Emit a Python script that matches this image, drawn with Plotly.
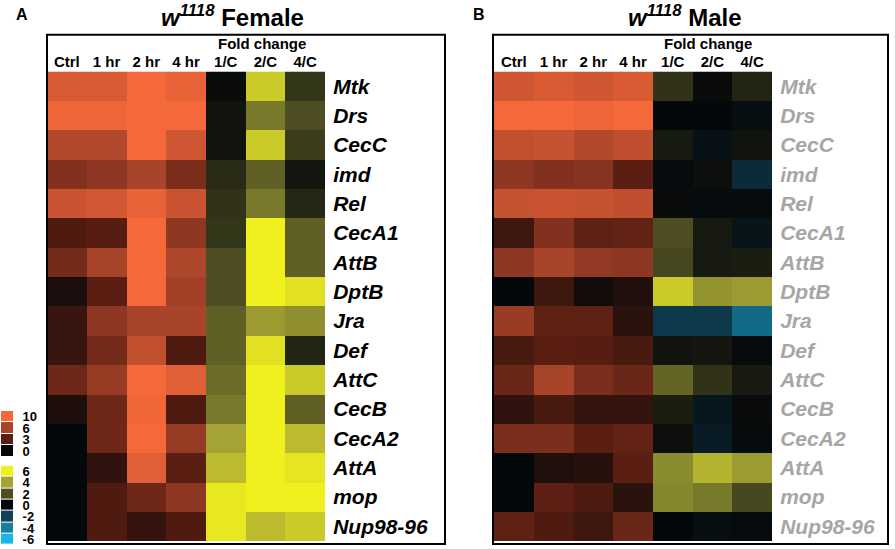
import plotly.graph_objects as go

W, H = 895, 549

genes = ["Mtk", "Drs", "CecC", "imd", "Rel", "CecA1", "AttB", "DptB", "Jra",
         "Def", "AttC", "CecB", "CecA2", "AttA", "mop", "Nup98-96"]
time_cols = ["Ctrl", "1 hr", "2 hr", "4 hr"]
fold_cols = ["1/C", "2/C", "4/C"]

# expression levels (orange scale, 0..10), rows follow genes
female_expr = [
    [8.5, 8.5, 10.0, 9.3],
    [9.7, 9.7, 10.0, 10.0],
    [6.5, 6.6, 10.0, 8.0],
    [4.5, 5.0, 6.0, 4.3],
    [7.8, 8.2, 9.3, 7.8],
    [2.6, 2.9, 10.0, 5.0],
    [4.0, 6.0, 10.0, 6.3],
    [0.8, 3.0, 10.0, 5.8],
    [1.8, 5.0, 6.0, 6.0],
    [1.8, 4.0, 7.3, 2.6],
    [3.7, 5.3, 10.0, 9.0],
    [0.9, 3.8, 9.8, 2.6],
    [0.0, 3.8, 10.0, 5.3],
    [0.0, 1.5, 9.0, 3.0],
    [0.0, 2.6, 3.8, 5.0],
    [0.0, 2.6, 1.7, 2.6],
]
female_fold = [
    [0.1, 5.0, 1.3],
    [0.3, 3.0, 2.0],
    [0.3, 5.0, 1.5],
    [1.0, 2.4, 0.4],
    [1.2, 3.0, 0.9],
    [1.3, 6.0, 2.4],
    [2.0, 6.0, 2.4],
    [2.0, 6.0, 5.6],
    [2.4, 3.8, 3.5],
    [2.4, 5.6, 0.8],
    [2.7, 6.0, 5.0],
    [3.0, 6.0, 2.4],
    [4.0, 6.0, 4.6],
    [4.6, 6.0, 5.7],
    [5.8, 6.0, 6.0],
    [5.8, 4.6, 5.0],
]
male_expr = [
    [8.0, 8.6, 8.0, 8.6],
    [10.0, 10.0, 9.7, 10.0],
    [7.3, 7.5, 6.5, 7.2],
    [5.0, 4.5, 4.7, 3.0],
    [7.5, 7.8, 7.5, 7.2],
    [2.0, 4.5, 3.2, 3.3],
    [5.0, 6.0, 5.2, 5.0],
    [0.0, 2.0, 0.5, 1.0],
    [5.4, 3.2, 3.2, 1.3],
    [2.4, 3.0, 2.9, 2.4],
    [3.6, 6.0, 4.3, 3.6],
    [1.5, 2.4, 1.7, 1.7],
    [4.3, 4.3, 3.0, 3.3],
    [0.0, 1.0, 1.2, 3.0],
    [0.0, 3.1, 2.5, 1.3],
    [3.2, 2.6, 2.0, 3.6],
]
male_fold = [
    [1.2, 0.1, 0.8],
    [0.0, 0.0, -0.2],
    [0.5, -0.3, 0.3],
    [-0.1, 0.2, -1.2],
    [0.1, -0.1, -0.1],
    [2.0, 0.5, -0.4],
    [1.8, 0.5, 0.6],
    [5.0, 3.6, 3.8],
    [-1.7, -1.7, -3.3],
    [0.3, 0.4, -0.1],
    [2.5, 1.2, 0.5],
    [0.6, -0.5, 0.1],
    [0.2, -0.7, -0.1],
    [3.4, 4.4, 3.8],
    [3.3, 3.0, 1.8],
    [0.0, -0.2, -0.1],
]

expr_key = [10, 6, 3, 0]
fold_key = [6, 4, 2, 0, -2, -4, -6]

orange = [[0.0, "#05080a"], [0.3, "#5a1e12"], [0.6, "#a8442a"], [1.0, "#f4683a"]]
yellow = [[0.0, "#19b5e5"], [1/6, "#147fa0"], [2/6, "#0f4258"], [0.5, "#05080a"],
          [4/6, "#4e4e22"], [5/6, "#a4a434"], [1.0, "#f0f01e"]]

FONT = "Liberation Sans, Arial"


def fx(x):
    return x / W


def fy(y):
    return 1 - y / H


fig = go.Figure()

panels = [
    ("", "x", "y", female_expr, female_fold, (47, 325), "black"),
    ("2", "x2", "y2", male_expr, male_fold, (494, 772), "#a6a6a6"),
]
for n, xa, ya, expr, fold, (x0, x1), gcol in panels:
    fig.add_trace(go.Heatmap(z=expr, x=time_cols, y=genes, colorscale=orange,
                             zmin=0, zmax=10, showscale=False, xaxis=xa, yaxis=ya))
    fig.add_trace(go.Heatmap(z=fold, x=fold_cols, y=genes, colorscale=yellow,
                             zmin=-6, zmax=6, showscale=False, xaxis=xa, yaxis=ya))
    fig.layout["xaxis" + n] = dict(domain=[fx(x0), fx(x1)], anchor=ya, side="top",
                                   type="category", showgrid=False, zeroline=False,
                                   ticks="", showline=False,
                                   tickfont=dict(family=FONT, size=15, color="black",
                                                 weight="bold"))
    fig.layout["yaxis" + n] = dict(domain=[fy(543), fy(70)], anchor=xa, side="right",
                                   type="category", autorange="reversed",
                                   showgrid=False, zeroline=False,
                                   ticks="outside", ticklen=3, tickcolor="rgba(0,0,0,0)",
                                   tickfont=dict(family=FONT, size=21, color=gcol,
                                                 weight="bold", style="italic"))

# colour keys on the left
fig.add_trace(go.Heatmap(z=[[v] for v in expr_key], y=[str(v) for v in expr_key], x=["k"],
                         colorscale=orange, zmin=0, zmax=10, showscale=False,
                         ygap=1, xaxis="x3", yaxis="y3"))
fig.add_trace(go.Heatmap(z=[[v] for v in fold_key], y=[str(v) for v in fold_key], x=["k"],
                         colorscale=yellow, zmin=-6, zmax=6, showscale=False,
                         ygap=1, xaxis="x4", yaxis="y4"))
for n, ya, keys, (top, bot) in [("3", "y3", expr_key, (412, 458)),
                                ("4", "y4", fold_key, (467, 547))]:
    fig.layout["xaxis" + n] = dict(domain=[fx(1), fx(13)], anchor=ya, visible=False)
    fig.layout["yaxis" + n] = dict(domain=[fy(bot), fy(top)], anchor="x" + n, side="right",
                                   type="category", autorange="reversed",
                                   tickmode="array", tickvals=[str(v) for v in keys],
                                   showgrid=False, zeroline=False,
                                   ticks="outside", ticklen=6, tickcolor="rgba(0,0,0,0)",
                                   tickfont=dict(family=FONT, size=13,
                                                 color="black", weight="bold"))

# frames
for x0, x1 in [(47, 445), (493, 888)]:
    fig.add_shape(type="rect", xref="paper", yref="paper", x0=fx(x0), x1=fx(x1),
                  y0=fy(546), y1=fy(33), line=dict(color="black", width=2))

# titles and panel letters
ann = [
    (22, 13, "<b>A</b>", 16),
    (479, 13, "<b>B</b>", 16),
    (232, 14, "<b><i>w</i><sup><i>1118</i></sup> Female</b>", 24),
    (685, 14, "<b><i>w</i><sup><i>1118</i></sup> Male</b>", 24),
    (262, 42, "<b>Fold change</b>", 15),
    (708, 42, "<b>Fold change</b>", 15),
]
for x, y, t, s in ann:
    fig.add_annotation(x=fx(x), y=fy(y), xref="paper", yref="paper", text=t,
                       showarrow=False, xanchor="center", yanchor="middle",
                       font=dict(family=FONT, size=s, color="black"))

fig.update_layout(width=W, height=H, margin=dict(l=0, r=0, t=0, b=0),
                  paper_bgcolor="white", plot_bgcolor="white")

# drop the page's default body margin so the figure sits at the window corner
fig.write_html("out.html", config={"displayModeBar": False},
               post_script="document.body.style.margin='0';document.body.style.overflow='hidden';")
